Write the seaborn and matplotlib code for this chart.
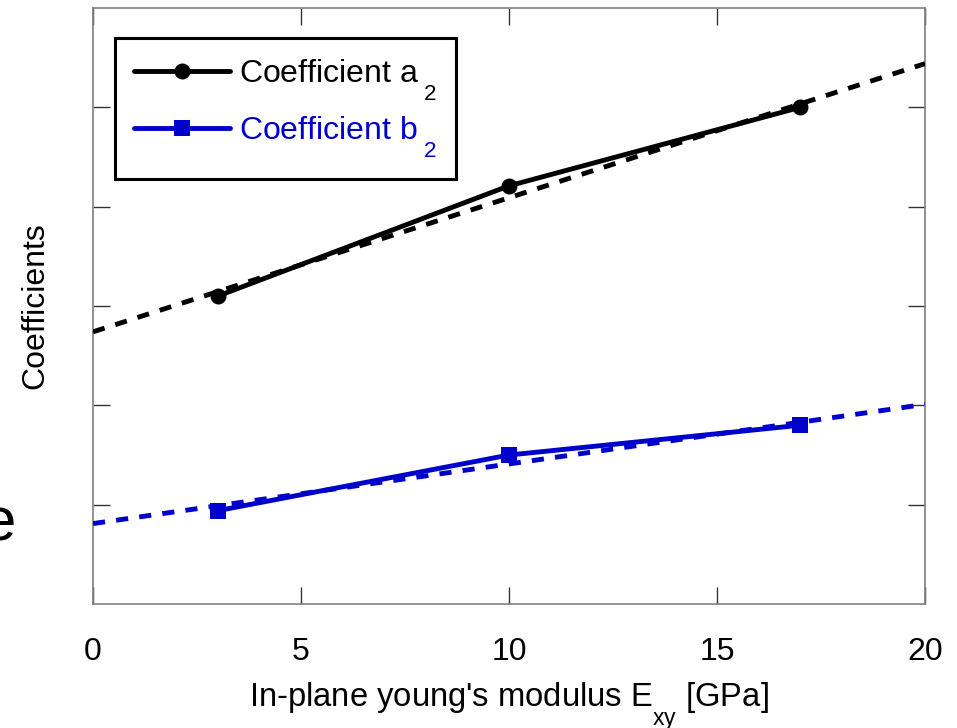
import matplotlib
matplotlib.use('Agg')
import matplotlib.pyplot as plt
import seaborn as sns

# ---- data ----
modulus = [3, 10, 17]
coef_a2 = [3.10, 4.21, 5.00]
coef_b2 = [0.94, 1.50, 1.80]
fit_x = [0, 20]
fit_a2 = [2.74, 5.44]
fit_b2 = [0.81, 2.01]
x_ticks = [0, 5, 10, 15, 20]
y_ticks = [1, 2, 3, 4, 5]
labels = ['Coefficient a\u2009$_2$', 'Coefficient b\u2009$_2$']

sns.set_style('white')
plt.rcParams['font.family'] = ['Liberation Sans', 'DejaVu Sans']
plt.rcParams['mathtext.fontset'] = 'custom'
plt.rcParams['mathtext.rm'] = 'Liberation Sans'
plt.rcParams['mathtext.it'] = 'Liberation Sans'
plt.rcParams['mathtext.bf'] = 'Liberation Sans:bold'
for k in ['text.color', 'axes.labelcolor', 'xtick.color', 'ytick.color']:
    plt.rcParams[k] = 'black'

# lower subscripts, as in the reference
try:
    from matplotlib import _mathtext
    _mathtext.FontConstantsBase.sub1 = 1.1
    _mathtext.FontConstantsBase.sub2 = 1.1
except Exception:
    pass

FS = 23
black = '#000000'
blue = '#0000CD'

fig = plt.figure(figsize=(9.57, 7.28), dpi=100)
ax = fig.add_axes([0.0972, 0.1703, 0.8694, 0.8187])

dash = (0, (2.5, 2.3))
sns.lineplot(x=fit_x, y=fit_a2, ax=ax, color=black, lw=3.5, linestyle=dash, zorder=3)
sns.lineplot(x=fit_x, y=fit_b2, ax=ax, color=blue, lw=3.5, linestyle=dash, zorder=3)
sns.lineplot(x=modulus, y=coef_a2, ax=ax, color=black, lw=3.5, marker='o',
             markersize=11.5, markeredgewidth=0, label=labels[0], zorder=4)
sns.lineplot(x=modulus, y=coef_b2, ax=ax, color=blue, lw=3.5, marker='s',
             markersize=12, markeredgewidth=0, label=labels[1], zorder=4)

ax.set_xlim(0, 20)
ax.set_ylim(0, 6)
ax.set_xticks(x_ticks)
ax.set_xticklabels([str(t) for t in x_ticks])
ax.set_yticks(y_ticks)
ax.tick_params(axis='both', direction='in', length=12, width=1, color='#333333',
               labelcolor='black', top=True, right=True, left=True, bottom=True,
               labelleft=False, labelsize=FS, pad=24)
for s in ax.spines.values():
    s.set_color('#808080')
    s.set_linewidth(1.2)

ax.set_xlabel("In-plane young's modulus E$_{\\mathrm{xy}}$ [GPa]", fontsize=23.6, labelpad=9)
ax.set_ylabel('Coefficients', fontsize=FS, labelpad=31)

leg = ax.legend(loc='upper left', bbox_to_anchor=(0.0264, 0.9497), borderaxespad=0,
                fontsize=FS, frameon=True, fancybox=False, handlelength=3.0,
                handletextpad=0.27, borderpad=0.6, labelspacing=0.36)
leg.get_frame().set_edgecolor('black')
leg.get_frame().set_linewidth(2.2)
leg.get_frame().set_alpha(1)
for t, c in zip(leg.get_texts(), [black, blue]):
    t.set_color(c)

# clipped fragment at the left edge of the reference
fig.text(0.0165, 0.258, 'e', fontsize=44.5, ha='right', va='baseline')

fig.savefig('out.png', dpi=100)
